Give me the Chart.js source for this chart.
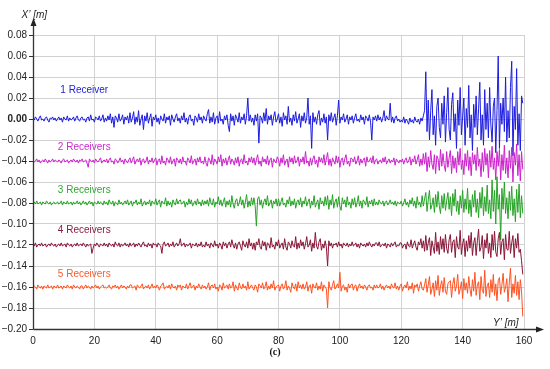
<!DOCTYPE html>
<html>
<head>
<meta charset="utf-8">
<script src="https://cdn.jsdelivr.net/npm/chart.js@4/dist/chart.umd.min.js"></script>
<style>html,body{margin:0;padding:0;background:#fff;}canvas{display:block;}</style>
</head>
<body>
<canvas id="c" width="550" height="369"></canvas>
<script>
// Sampling step along Y' [m]
const stepY = 0.4;

// Series values X', in millimetres (plotted in metres)
const s1mm = [
1,-1,2,0,-2,1,3,-1,0,-2,1,2,-1,-3,1,0,2,-1,1,-2,
0,2,-1,1,-3,2,0,-1,3,-2,1,-1,0,2,-2,1,3,-1,-2,1,
2,-1,0,-3,1,2,-2,4,-1,0,-3,2,1,-1,3,-2,0,4,-3,1,
-2,3,-1,5,-4,2,-8,3,1,-3,5,-2,0,4,-5,2,-1,3,-4,6,
-3,1,7,-5,2,-3,8,-6,0,4,-10,3,-2,6,-4,1,5,-7,2,-1,
4,-3,1,-5,3,0,-2,5,-4,2,-1,3,-6,4,0,-3,2,5,-2,1,
-4,3,-1,6,-3,1,-5,2,4,-2,0,-6,3,1,-3,5,-1,2,-4,3,
0,-2,5,9,-4,2,-3,6,-5,1,3,-4,7,-2,0,-5,3,-1,4,-6,
-12,5,-2,3,-6,4,1,-3,6,-4,2,-1,5,-5,3,20,-2,4,-3,1,
-6,4,-2,5,-23,3,1,-4,6,-2,10,-5,3,-1,4,-6,2,7,-3,0,
5,-4,2,-7,6,-1,3,-5,12,-3,1,-6,4,-2,7,-4,0,5,-8,3,
-2,6,-4,1,20,-5,3,-28,6,-3,2,-5,4,8,-6,1,-3,5,-4,2,
-20,4,-2,6,-3,1,5,-6,3,18,-4,2,-1,5,-3,0,4,-5,2,-1,
3,-4,1,5,-2,0,-3,4,-1,2,-5,3,1,-2,4,-3,-20,2,-1,3,
-2,4,-1,2,-3,1,8,-2,3,0,-1,15,-3,2,-4,1,3,-2,0,-3,
-1,-3,2,-4,0,-2,-5,1,-3,-1,-4,2,-2,-3,0,-5,1,-2,3,8,
45,-12,18,-20,8,28,-15,3,-25,12,20,-8,-18,15,-5,22,-22,6,30,-10,
-20,14,25,-12,5,-28,18,-6,30,-15,2,20,-25,10,-8,32,-18,4,-30,14,
-8,22,-15,10,35,-20,4,-25,28,-10,15,-18,30,-5,-22,12,20,-32,8,60,
-28,15,-5,20,-12,40,-22,8,-18,30,55,-35,12,-10,48,-25,5,-30,22,15
];
const s2mm = [
-39,-41,-40,-38,-41,-39,-42,-40,-39,-41,-38,-40,-42,-39,-41,-40,-38,-41,-39,-40,
-41,-39,-40,-42,-39,-38,-41,-40,-39,-42,-40,-39,-41,-38,-40,-41,-39,-42,-39,-40,
-38,-41,-40,-39,-42,-46,-38,-40,-41,-39,-42,-38,-40,-41,-39,-37,-42,-40,-39,-41,
-38,-42,-39,-37,-41,-40,-43,-38,-39,-42,-40,-37,-41,-39,-43,-38,-40,-42,-39,-37,
-42,-39,-36,-43,-40,-38,-41,-37,-44,-39,-38,-42,-40,-36,-43,-39,-41,-37,-42,-39,
-37,-44,-39,-38,-43,-35,-42,-40,-44,-37,-39,-42,-36,-43,-40,-38,-45,-37,-39,-42,
-38,-43,-36,-41,-40,-44,-37,-39,-42,-35,-43,-40,-38,-44,-37,-41,-36,-42,-40,-43,
-36,-42,-45,-37,-39,-43,-34,-44,-38,-40,-43,-36,-41,-34,-45,-38,-42,-37,-44,-39,
-35,-43,-38,-40,-44,-37,-42,-36,-45,-39,-38,-43,-34,-42,-40,-44,-37,-41,-36,-42,
-37,-44,-39,-34,-43,-40,-45,-36,-41,-38,-43,-35,-44,-39,-37,-46,-38,-40,-42,-36,
-39,-45,-37,-42,-34,-44,-40,-38,-46,-36,-41,-37,-43,-35,-42,-40,-36,-45,-38,-41,
-36,-43,-31,-42,-40,-45,-37,-44,-38,-35,-43,-39,-46,-36,-41,-37,-42,-34,-44,-38,
-32,-44,-38,-45,-37,-40,-43,-35,-42,-36,-46,-39,-37,-44,-38,-34,-43,-40,-45,-37,
-38,-41,-36,-43,-40,-35,-44,-38,-42,-39,-37,-45,-36,-41,-40,-37,-42,-35,-43,-39,
-38,-43,-40,-39,-42,-37,-41,-36,-43,-40,-38,-42,-39,-41,-37,-44,-38,-40,-42,-39,
-41,-38,-43,-39,-37,-42,-40,-36,-44,-38,-41,-35,-43,-39,-34,-45,-38,-44,-33,-43,
-32,-50,-36,-46,-30,-43,-48,-34,-52,-35,-38,-49,-29,-45,-33,-44,-50,-31,-46,-37,
-30,-52,-35,-47,-37,-51,-31,-44,-28,-48,-39,-53,-33,-45,-30,-49,-36,-54,-32,-43,
-34,-49,-27,-45,-38,-55,-32,-50,-28,-44,-33,-56,-30,-46,-26,-48,-37,-58,-31,-45,
-29,-58,-34,-49,-25,-52,-37,-56,-30,-47,-27,-60,-32,-44,-24,-54,-34,-59,-31,-48
];
const s3mm = [
-80,-79,-81,-78,-81,-80,-79,-82,-79,-80,-81,-78,-80,-81,-79,-82,-80,-79,-81,-80,
-79,-81,-80,-78,-82,-79,-80,-81,-78,-81,-80,-79,-82,-79,-81,-80,-78,-81,-79,-82,
-80,-78,-81,-79,-82,-80,-78,-81,-79,-83,-79,-80,-81,-78,-81,-79,-80,-82,-78,-81,
-79,-82,-77,-80,-81,-78,-83,-79,-80,-82,-77,-81,-79,-82,-80,-78,-81,-77,-82,-80,
-78,-83,-79,-80,-77,-82,-79,-81,-76,-83,-80,-78,-82,-79,-81,-77,-83,-78,-80,-81,
-76,-82,-79,-77,-84,-78,-80,-81,-75,-83,-78,-82,-79,-84,-77,-80,-82,-76,-81,-78,
-77,-81,-80,-78,-84,-79,-82,-76,-81,-77,-83,-80,-78,-82,-76,-81,-79,-83,-77,-82,
-78,-81,-77,-83,-75,-80,-82,-76,-84,-79,-81,-74,-82,-77,-83,-79,-75,-84,-78,-82,
-77,-84,-73,-81,-85,-78,-76,-83,-80,-74,-82,-77,-85,-79,-72,-84,-78,-83,-75,-82,
-75,-83,-102,-76,-74,-82,-77,-85,-79,-76,-82,-73,-83,-80,-77,-85,-78,-81,-76,-83,
-76,-83,-79,-75,-82,-80,-84,-77,-81,-74,-83,-78,-82,-76,-85,-79,-77,-82,-75,-84,
-78,-81,-74,-83,-79,-76,-85,-78,-82,-73,-84,-80,-77,-86,-75,-81,-78,-83,-74,-82,
-73,-86,-77,-82,-72,-85,-79,-76,-84,-74,-83,-87,-75,-81,-77,-84,-74,-82,-79,-85,
-76,-82,-75,-84,-80,-73,-83,-78,-85,-77,-79,-82,-74,-84,-78,-81,-77,-83,-76,-82,
-79,-82,-77,-80,-81,-78,-83,-79,-78,-82,-80,-77,-81,-79,-82,-78,-83,-79,-80,-81,
-78,-83,-80,-76,-82,-79,-84,-77,-81,-75,-83,-78,-85,-74,-82,-79,-84,-73,-83,-76,
-70,-88,-77,-68,-86,-82,-75,-89,-72,-84,-69,-83,-90,-73,-85,-71,-87,-78,-70,-86,
-74,-92,-71,-83,-67,-88,-78,-91,-73,-85,-68,-89,-76,-86,-66,-90,-77,-93,-72,-84,
-68,-89,-76,-94,-70,-85,-65,-92,-74,-88,-63,-90,-77,-95,-58,-88,-68,-100,-55,-86,
-72,-115,-66,-86,-60,-90,-75,-95,-69,-87,-64,-92,-76,-98,-67,-89,-62,-94,-73,-90
];
const s4mm = [
-119,-121,-118,-122,-120,-119,-121,-118,-121,-120,-119,-122,-120,-119,-121,-118,-120,-121,-119,-122,
-120,-119,-121,-118,-121,-120,-119,-122,-118,-120,-121,-119,-122,-120,-119,-121,-118,-121,-120,-119,
-121,-118,-120,-122,-119,-121,-120,-119,-128,-123,-119,-121,-118,-120,-122,-119,-120,-121,-118,-121,
-119,-122,-118,-120,-121,-119,-122,-117,-120,-121,-118,-122,-119,-121,-120,-118,-121,-119,-122,-118,
-121,-120,-118,-122,-119,-121,-118,-120,-122,-119,-117,-121,-120,-122,-118,-121,-119,-123,-118,-120,
-119,-122,-118,-120,-121,-128,-119,-117,-121,-120,-118,-122,-119,-121,-117,-122,-120,-118,-121,-119,
-114,-121,-120,-118,-122,-119,-121,-120,-118,-123,-119,-120,-121,-118,-122,-119,-121,-117,-122,-120,
-122,-117,-121,-119,-123,-118,-120,-122,-116,-121,-119,-123,-118,-120,-124,-117,-121,-118,-123,-119,
-117,-122,-115,-120,-123,-118,-124,-119,-117,-121,-125,-116,-120,-122,-117,-123,-114,-121,-118,-124,
-118,-125,-117,-120,-114,-122,-124,-116,-121,-117,-125,-118,-119,-123,-113,-122,-120,-124,-117,-121,
-115,-123,-120,-118,-124,-114,-122,-125,-117,-119,-123,-116,-121,-122,-112,-124,-118,-123,-115,-121,
-117,-124,-119,-112,-122,-120,-115,-126,-118,-123,-108,-121,-124,-117,-114,-125,-119,-123,-116,-122,
-140,-116,-121,-118,-123,-119,-120,-118,-122,-117,-121,-119,-123,-118,-120,-121,-118,-122,-119,-121,
-117,-121,-120,-118,-122,-119,-123,-118,-120,-121,-119,-122,-118,-121,-117,-120,-122,-119,-121,-118,
-118,-121,-117,-122,-120,-119,-121,-118,-123,-119,-120,-122,-118,-121,-119,-117,-122,-120,-121,-118,
-118,-123,-120,-119,-124,-117,-121,-122,-115,-123,-119,-116,-122,-125,-117,-120,-114,-123,-116,-126,
-111,-125,-118,-113,-130,-116,-122,-128,-108,-126,-117,-129,-112,-124,-114,-127,-110,-123,-128,-115,
-110,-127,-117,-115,-132,-112,-122,-124,-106,-129,-119,-114,-131,-116,-126,-111,-123,-108,-130,-118,
-113,-130,-116,-105,-126,-122,-111,-133,-115,-123,-109,-128,-118,-132,-110,-125,-107,-127,-131,-114,
-108,-129,-117,-114,-134,-110,-124,-125,-107,-128,-118,-111,-132,-114,-123,-109,-127,-124,-135,-148
];
const s5mm = [
-161,-159,-160,-162,-158,-160,-161,-159,-162,-159,-160,-161,-158,-161,-160,-159,-162,-159,-160,-161,
-158,-161,-160,-159,-162,-159,-160,-161,-158,-160,-161,-159,-162,-158,-160,-161,-159,-160,-162,-159,
-159,-162,-160,-158,-161,-159,-160,-162,-159,-161,-160,-158,-161,-159,-162,-160,-159,-158,-161,-160,
-161,-160,-158,-161,-162,-159,-160,-158,-161,-159,-162,-160,-158,-161,-159,-160,-162,-159,-161,-158,
-158,-161,-160,-159,-163,-158,-160,-161,-159,-157,-162,-160,-159,-161,-158,-162,-160,-157,-161,-159,
-161,-158,-160,-163,-159,-158,-156,-162,-160,-159,-161,-158,-162,-157,-160,-161,-159,-163,-158,-160,
-158,-163,-159,-160,-161,-157,-162,-159,-156,-161,-160,-158,-163,-159,-161,-157,-160,-162,-158,-161,
-159,-162,-160,-156,-163,-159,-158,-161,-157,-162,-160,-164,-158,-159,-163,-156,-161,-160,-158,-162,
-157,-161,-160,-155,-164,-158,-161,-163,-156,-160,-162,-157,-161,-159,-163,-155,-162,-160,-158,-161,
-163,-158,-160,-165,-157,-159,-161,-156,-162,-160,-155,-163,-159,-162,-157,-161,-154,-163,-160,-159,
-158,-164,-159,-157,-162,-160,-154,-163,-159,-161,-165,-156,-160,-162,-157,-164,-155,-161,-158,-162,
-157,-162,-160,-155,-164,-159,-158,-166,-157,-160,-161,-156,-163,-159,-162,-155,-164,-158,-160,-162,
-180,-155,-161,-163,-158,-154,-162,-160,-157,-161,-146,-164,-159,-158,-163,-160,-165,-157,-161,-158,
-157,-163,-159,-158,-164,-160,-157,-161,-159,-162,-158,-160,-163,-159,-158,-161,-160,-163,-158,-161,
-158,-161,-160,-157,-162,-159,-163,-160,-158,-161,-159,-162,-157,-160,-161,-156,-162,-159,-163,-159,
-157,-164,-160,-158,-161,-155,-163,-159,-162,-156,-166,-158,-160,-157,-164,-159,-155,-162,-163,-158,
-152,-165,-158,-150,-167,-162,-156,-169,-154,-163,-149,-168,-159,-154,-165,-151,-164,-167,-157,-155,
-154,-170,-157,-151,-164,-159,-148,-167,-162,-155,-171,-152,-163,-156,-166,-150,-162,-169,-153,-164,
-146,-168,-158,-155,-172,-150,-163,-166,-144,-169,-159,-156,-170,-153,-165,-148,-168,-157,-173,-154,
-151,-167,-158,-147,-165,-160,-152,-174,-156,-142,-170,-157,-166,-149,-168,-155,-172,-153,-164,-188
];

const seriesNames = ['1 Receiver', '2 Receivers', '3 Receivers', '4 Receivers', '5 Receivers'];
const seriesData = [s1mm, s2mm, s3mm, s4mm, s5mm];
const seriesColors = ['#1c1ce0', '#cc22cc', '#26a326', '#8a1638', '#ff5222'];
const labelColors = ['#2020d8', '#cc2acc', '#30a830', '#8a1a40', '#ff5a2a'];
const labelY = [0.027, -0.027, -0.068, -0.106, -0.148];
const labelX = 16.7;

const xTicks = [0, 20, 40, 60, 80, 100, 120, 140, 160];
const yMin = -0.20, yMax = 0.08, yStep = 0.02;

const FONT = "'Liberation Sans Narrow','Liberation Sans',Arial,sans-serif";

function fmtTick(v) {
  if (Math.abs(v) < 1e-9) return '0.00';
  const s = Math.abs(v).toFixed(2);
  return v < 0 ? '\u2212' + s : s;
}

const decorPlugin = {
  id: 'decor',
  beforeDraw(chart) {
    const c = chart.ctx;
    c.save();
    c.fillStyle = '#fff';
    c.fillRect(0, 0, chart.width, chart.height);
    c.restore();
  },
  afterDraw(chart) {
    const c = chart.ctx;
    const xs_ = chart.scales.x, ys_ = chart.scales.y;
    const ax = Math.round(xs_.getPixelForValue(0)) + 0.5;
    const ay = Math.round(ys_.getPixelForValue(yMin)) + 0.5;
    const top = ys_.getPixelForValue(yMax);
    const right = xs_.getPixelForValue(160);
    c.save();
    c.strokeStyle = '#333';
    c.fillStyle = '#222';
    c.lineWidth = 1.3;
    c.beginPath(); c.moveTo(ax, ay); c.lineTo(ax, top - 11); c.stroke();
    c.beginPath(); c.moveTo(ax, top - 17); c.lineTo(ax - 3, top - 9); c.lineTo(ax + 3, top - 9); c.closePath(); c.fill();
    c.beginPath(); c.moveTo(ax, ay); c.lineTo(right + 14, ay); c.stroke();
    c.beginPath(); c.moveTo(right + 20, ay); c.lineTo(right + 12, ay - 3); c.lineTo(right + 12, ay + 3); c.closePath(); c.fill();
    c.fillStyle = '#222';
    c.font = "italic 10px " + FONT;
    c.textBaseline = 'middle';
    c.textAlign = 'left';
    c.fillText("X\u2019 [m]", ax - 12, top - 20);
    c.fillText("Y\u2019 [m]", right - 31, ay - 6);
    c.font = "10px 'Liberation Sans',Arial,sans-serif";
    c.textAlign = 'center';
    seriesNames.forEach((n, i) => {
      c.fillStyle = labelColors[i];
      c.fillText(n, xs_.getPixelForValue(labelX), ys_.getPixelForValue(labelY[i]));
    });
    c.fillStyle = '#111';
    c.font = "bold 10px 'Liberation Serif','Times New Roman',serif";
    c.fillText('(c)', 275, 352);
    c.restore();
  }
};

new Chart(document.getElementById('c'), {
  type: 'line',
  data: {
    datasets: seriesData.map((arr, i) => ({
      label: seriesNames[i],
      data: arr.map((v, j) => ({ x: +(j * stepY).toFixed(2), y: v / 1000 })),
      borderColor: seriesColors[i],
      borderWidth: 1,
      pointRadius: 0,
      tension: 0,
      fill: false,
      order: 5 - i
    }))
  },
  options: {
    responsive: false,
    animation: false,
    layout: { padding: { top: 35, right: 26, left: 0, bottom: 0 } },
    plugins: { legend: { display: false }, tooltip: { enabled: false } },
    scales: {
      x: {
        type: 'linear',
        min: 0, max: 160,
        afterBuildTicks: s => { s.ticks = xTicks.map(v => ({ value: v })); },
        afterFit: s => { s.height = 40; },
        grid: { color: '#d2d2d2', lineWidth: 1, drawTicks: false },
        border: { display: false },
        ticks: { padding: 6, color: '#222', font: { family: FONT, size: 10 }, maxRotation: 0 }
      },
      y: {
        min: yMin, max: yMax,
        ticks: {
          stepSize: yStep,
          padding: 2,
          color: '#222',
          callback: v => fmtTick(v),
          font: ctx => ({ family: FONT, size: 10, weight: (ctx.tick && Math.abs(ctx.tick.value) < 1e-9) ? 'bold' : 'normal' })
        },
        afterFit: s => { s.width = 33; },
        grid: { color: '#d2d2d2', lineWidth: 1, tickLength: 4, tickColor: '#333' },
        border: { display: false }
      }
    }
  },
  plugins: [decorPlugin]
});
</script>
</body>
</html>
